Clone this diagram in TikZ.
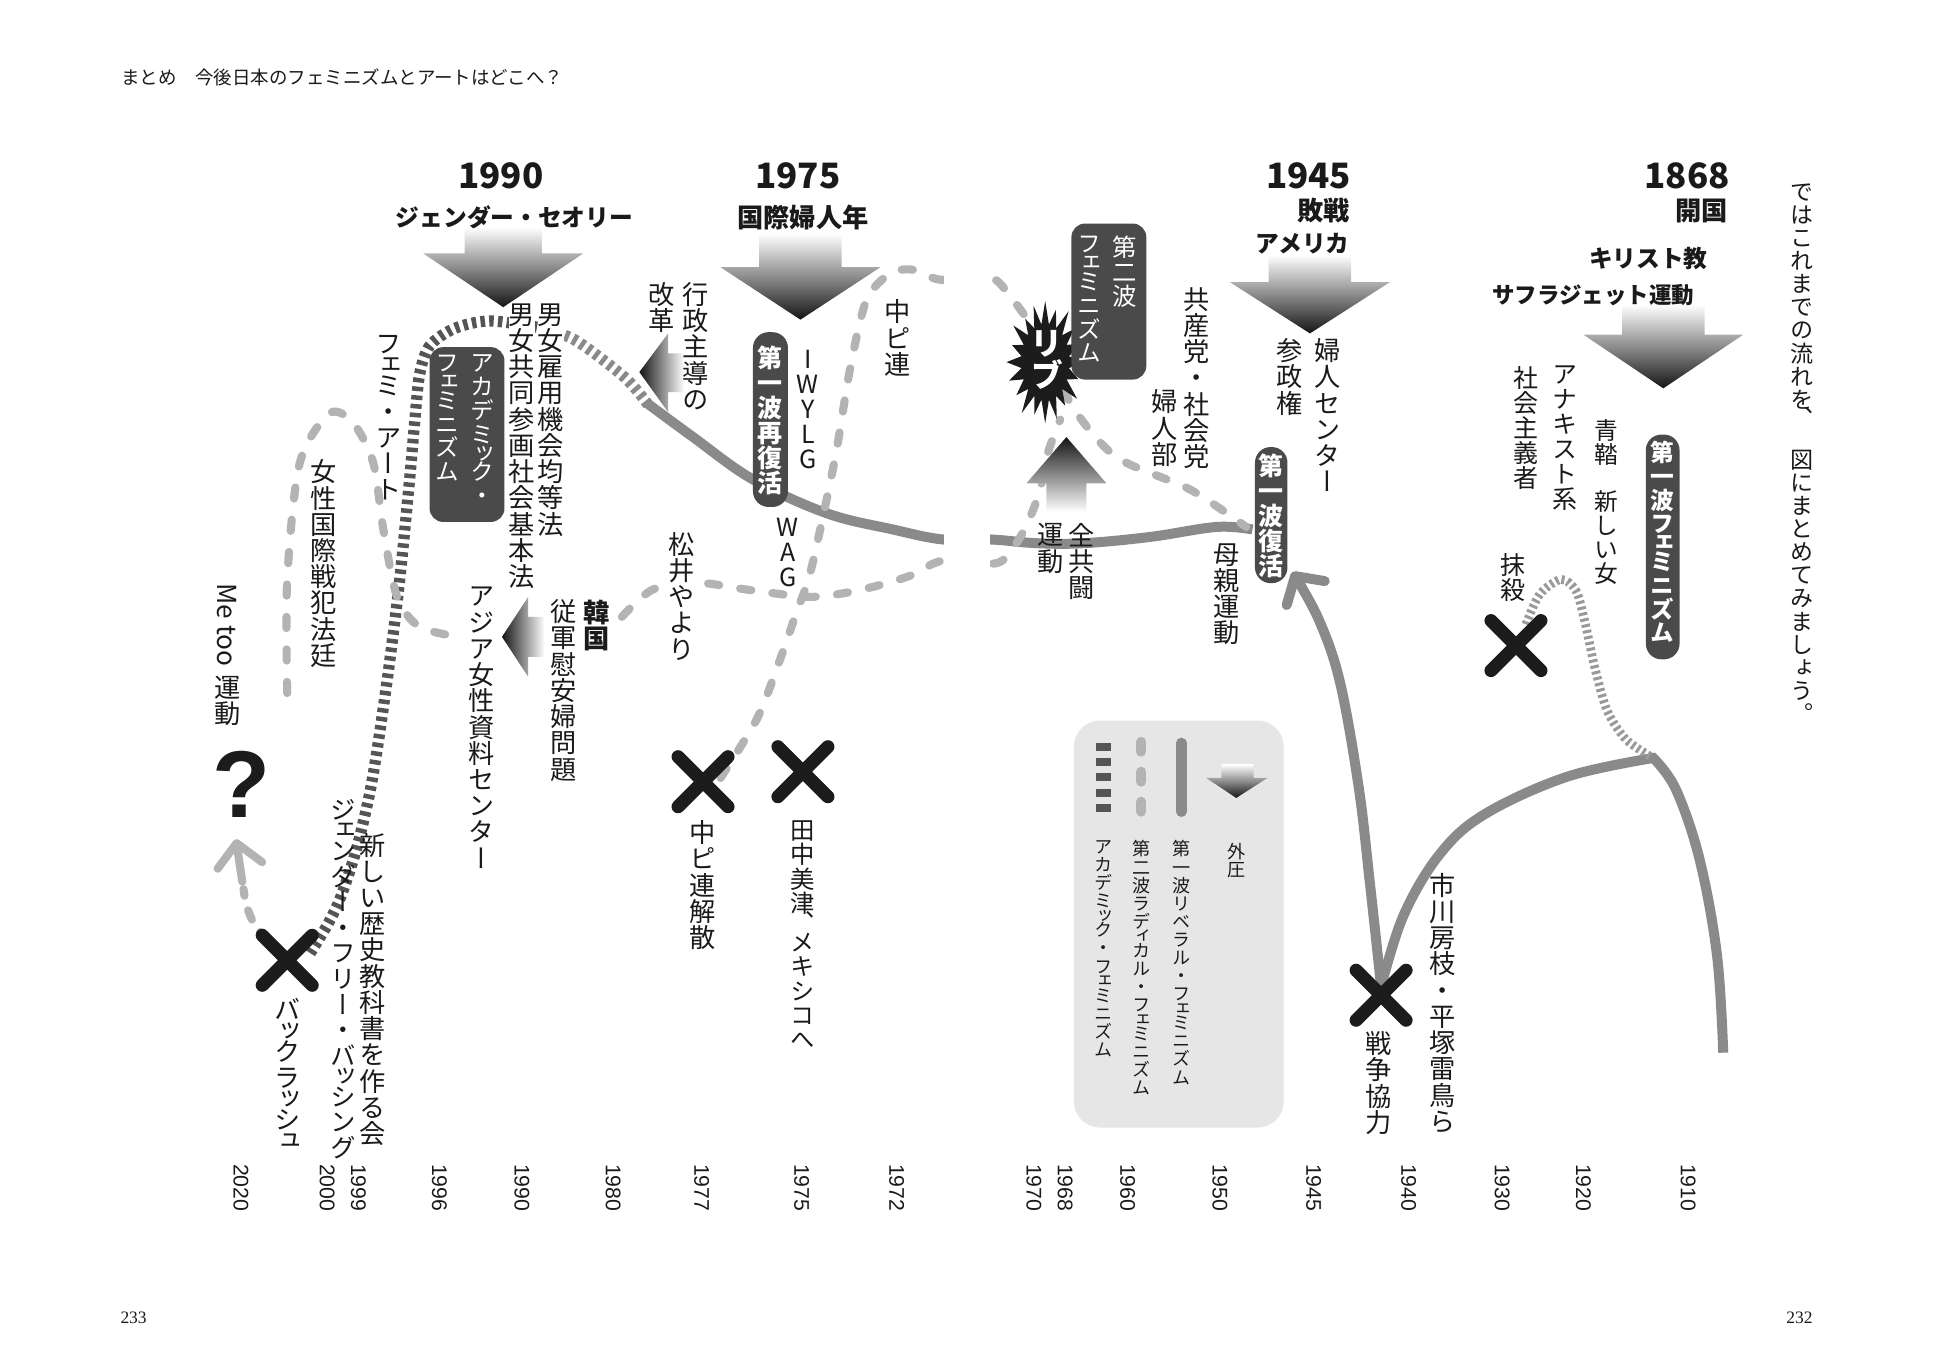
\documentclass[tikz,border=0pt]{standalone}
\usepackage{fontspec}
\usetikzlibrary{arrows.meta}
\newfontfamily\jph{Noto Sans CJK JP}
\newfontfamily\jpv{Noto Sans CJK JP}[RawFeature=+vert]
\newfontfamily\lsans{Liberation Sans}
\newfontfamily\lserif{Liberation Serif}
\newcommand\fs[1]{\fontsize{#1}{#1}\selectfont}
\makeatletter
\def\tateend{}
\def\tatei#1{\ifx#1\tateend\else\tatechar{#1}\expandafter\tatei\fi}
\newcommand\tatechar[1]{\in@{#1}{ッュェャョィァ、}\ifin@\baselineskip=0.8em\hbox to 1em{\hss#1\hss}\baselineskip=0.8em\else\hbox to 1em{\hss#1\hss}\baselineskip=1em\fi}
\newcommand\tate[1]{\vbox{\baselineskip=1em\lineskiplimit=-1000pt\lineskip=0pt\tatei#1\tateend}}
\makeatother
\definecolor{libgray}{HTML}{8A8A8A}
\definecolor{radgray}{HTML}{B3B3B3}
\definecolor{acadark}{HTML}{555555}
\definecolor{midstripe}{HTML}{9A9A9A}
\definecolor{pillgray}{HTML}{4A4A4A}
\definecolor{legbg}{HTML}{E6E6E6}
\definecolor{xblack}{HTML}{1C1C1C}
\definecolor{ink}{HTML}{1A1A1A}
\tikzset{
  vt/.style={inner sep=0pt, anchor=north, text=ink, font=\jpv\fs{21}},
  vtw/.style={inner sep=0pt, anchor=north, text=white},
  hd/.style={inner sep=0pt, text=ink, font=\jph\bfseries\fs{19}},
  yr/.style={inner sep=0pt, rotate=-90, anchor=west, text=ink, font=\lsans\fs{17}},
  lib/.style={draw=libgray, line width=8pt, line cap=butt},
  rad/.style={draw=radgray, line width=6.5pt, line cap=round, dash pattern=on 9pt off 17pt},
  aca/.style={draw=acadark, line width=9pt, line cap=butt, dash pattern=on 3.6pt off 3.4pt},
  pill/.style={fill=pillgray, rounded corners=12.5pt},
  darkbox/.style={fill=pillgray, rounded corners=11pt},
  xcross/.pic={\draw[xblack, line width=10.5pt, line cap=round] (-20,-20) -- (20,20) (-20,20) -- (20,-20);},
  gdown/.style={top color=white, bottom color=black!92, middle color=black!45},
  gleft/.style={left color=black!92, right color=white},
  gup/.style={top color=black!92, bottom color=white},
}
\begin{document}
\begin{tikzpicture}[x=1pt, y=-1pt]
\fill[white] (0,0) rectangle (1568,1083);
\useasboundingbox (0,0) rectangle (1568,1083);

% ---------- legend ----------
\fill[legbg, rounded corners=21pt] (860,577) rectangle (1028,903);
\draw[libgray, line width=8.5pt, line cap=round] (946,595) -- (946,650);
\draw[radgray, line width=8pt, line cap=round, dash pattern=on 8pt off 16pt] (914,594) -- (914,652);
\draw[acadark, line width=12pt, dash pattern=on 6.4pt off 5.8pt] (884,595) -- (884,652);
\shade[gdown] (978,612) -- (1004,612) -- (1004,623) -- (1015,623) -- (990,639) -- (966,623) -- (978,623) -- cycle;
\node[vt, font=\jpv\fs{14.5}] (lg0) at (990,675) {\tate{外圧}};
\node[vt, font=\jpv\fs{14.5}] (lg1) at (946,673) {\tate{第一波リベラル・フェミニズム}};
\node[vt, font=\jpv\fs{14.5}] (lg2) at (914,673) {\tate{第二波ラディカル・フェミニズム}};
\node[vt, font=\jpv\fs{14.5}] (lg3) at (884,673) {\tate{アカデミック・フェミニズム}};

% ---------- coordinates of the crosses ----------
\coordinate (xA) at (230,769);
\coordinate (xB) at (563,626);
\coordinate (xC) at (643,618);
\coordinate (xD) at (1106,797);
\coordinate (xE) at (1214,517);

% ---------- liberal (solid) lines ----------
\draw[lib, line join=miter] plot[smooth, tension=0.6] coordinates {(1380,843) (1375,765) (1361,688) (1342,632) (1324,607)}
   -- plot[smooth, tension=0.6] coordinates {(1324,607) (1255,622) (1189,652) (1153,684) (1124,733) (1106,790)};
\draw[lib, -{Straight Barb[length=16pt,width=36pt,round]}] plot[smooth, tension=0.6] coordinates {(1106,790) (1097,707) (1088,630) (1073,546) (1056,496) (1035,458)};
\draw[lib] plot[smooth, tension=0.6] coordinates {(1003,424) (974,422) (921,430) (868,435) (830,435) (793,432) (755,432) (715,424) (662,411) (603,384) (555,350) (517,322)};

% ---------- academic (striped) ----------
\draw[aca, draw=libgray] plot[smooth] coordinates {(519,324) (500,302) (460,272) (430,262)};
\draw[aca] plot[smooth] coordinates {(430,262) (392,257) (364,263) (344,277) (336,300) (332,339) (328,384) (320,465) (310,545) (298,625) (286,678) (273,718) (262,741) (248,764)};
\draw[midstripe, line width=7pt, dash pattern=on 2.4pt off 2.4pt] plot[smooth] coordinates {(1222,500) (1233,476) (1250,464) (1262,473) (1269,497) (1277,534) (1287,569) (1302,592) (1322,606)};

% ---------- radical (dashed) ----------
\draw[rad] plot[smooth] coordinates {(230,555) (230,464) (240,371) (264,331) (283,339) (299,371) (307,424) (318,478) (336,502) (368,510)};
\draw[rad] plot[smooth] coordinates {(498,494) (523,472) (561,467) (590,471) (619,475) (646,478) (670,476) (699,470) (729,461) (755,449) (798,451) (814,435) (825,414) (833,392) (838,366) (849,336)};
\draw[rad] plot[smooth] coordinates {(577,623) (606,576) (624,530) (638,490) (648,462) (659,414) (670,360) (681,294) (694,240) (713,219) (731,216) (753,224) (793,222) (811,240) (827,262) (845,292) (859,326) (894,366) (953,392) (998,422)};
% arrow towards the question mark
\draw[rad, dash pattern=on 8pt off 12pt] (214,752) .. controls (202,742) and (197,728) .. (195,712);
\draw[radgray, line width=6.5pt, line cap=round, -{Straight Barb[length=18pt,width=36pt,round]}] (194,706) -- (189,672);

% ---------- gutter ----------
\fill[white] (756,150) rectangle (793,700);

% ---------- crosses ----------
\pic at (xA) {xcross};
\pic at (xB) {xcross};
\pic at (xC) {xcross};
\pic at (xD) {xcross};
\pic at (xE) {xcross};

% ---------- lib star ----------
\begin{scope}[shift={(837,290)}, xscale=31, yscale=49]
\fill[xblack] (0:1) -- (9:0.62) -- (18:0.9) -- (27:0.62) -- (36:1.02) -- (45:0.62) -- (54:0.88) -- (63:0.62) -- (72:0.97) -- (81:0.62)
 -- (90:1) -- (99:0.62) -- (108:0.9) -- (117:0.62) -- (126:1.03) -- (135:0.62) -- (144:0.92) -- (153:0.62) -- (162:0.98) -- (171:0.62)
 -- (180:1) -- (189:0.62) -- (198:0.9) -- (207:0.62) -- (216:1.02) -- (225:0.62) -- (234:0.88) -- (243:0.62) -- (252:0.97) -- (261:0.62)
 -- (270:1) -- (279:0.62) -- (288:0.9) -- (297:0.62) -- (306:1.03) -- (315:0.62) -- (324:0.92) -- (333:0.62) -- (342:0.98) -- (351:0.62) -- cycle;
\end{scope}
\node[vtw, font=\jpv\bfseries\fs{26}] (lib) at (838,264) {\tate{リブ}};

% ---------- boxes and pills ----------
\fill[darkbox] (858,179) rectangle (918,304);
\node[vtw, font=\jpv\fs{19.5}] (b2a) at (901,189) {\tate{第二波}};
\node[vtw, font=\jpv\fs{19}] (b2b) at (872,189) {\tate{フェミニズム}};
\fill[darkbox] (344,278) rectangle (404,418);
\node[vtw, font=\jpv\fs{19}] (b3a) at (386,284) {\tate{アカデミック・}};
\node[vtw, font=\jpv\fs{19}] (b3b) at (358,284) {\tate{フェミニズム}};
\fill[pill] (603,266) rectangle (631,406);
\node[vtw, font=\jpv\bfseries\fs{20}] (p1) at (617,277) {\tate{第一波再復活}};
\fill[pill] (1005,358) rectangle (1031,467);
\node[vtw, font=\jpv\bfseries\fs{20}] (p2) at (1018,363) {\tate{第一波復活}};
\fill[pill] (1318,348) rectangle (1345,528);
\node[vtw, font=\jpv\bfseries\fs{19}] (p3) at (1331,353) {\tate{第一波フェミニズム}};

% ---------- gradient arrows ----------
\shade[gdown] (372,182) -- (434,182) -- (434,203) -- (467,203) -- (403,246) -- (339,203) -- (372,203) -- cycle;
\shade[gdown] (608,187) -- (674,187) -- (674,214) -- (705,214) -- (641,256) -- (577,214) -- (608,214) -- cycle;
\shade[gdown] (1016,204) -- (1082,204) -- (1082,226) -- (1113,226) -- (1049,267) -- (985,226) -- (1016,226) -- cycle;
\shade[gdown] (1299,244) -- (1365,244) -- (1365,268) -- (1396,268) -- (1332,311) -- (1268,268) -- (1299,268) -- cycle;
\shade[gleft] (512,298) -- (535,267) -- (535,283) -- (548,283) -- (548,314) -- (535,314) -- (535,330) -- cycle;
\shade[gleft] (402,510) -- (423,478) -- (423,494) -- (436,494) -- (436,526) -- (423,526) -- (423,542) -- cycle;
\shade[gup] (854,350) -- (886,387) -- (870,387) -- (870,410) -- (838,410) -- (838,387) -- (822,387) -- cycle;

% ---------- headings ----------
\node[inner sep=0pt, anchor=west, font=\jph\fs{14.8}, text=ink] (title) at (97,62) {まとめ　今後日本のフェミニズムとアートはどこへ？};
\node[hd, font=\jph\bfseries\fs{28}] (h1990) at (401,141) {1990};
\node[hd] (h1990t) at (412,174) {ジェンダー・セオリー};
\node[hd, font=\jph\bfseries\fs{28}] (h1975) at (639,141) {1975};
\node[hd, font=\jph\bfseries\fs{21}] (h1975t) at (643,174) {国際婦人年};
\node[hd, font=\jph\bfseries\fs{28}] (h1945) at (1048,141) {1945};
\node[hd, font=\jph\bfseries\fs{21}, anchor=east] (h1945a) at (1081,169) {敗戦};
\node[hd, anchor=east] (h1945b) at (1081,195) {アメリカ};
\node[hd, font=\jph\bfseries\fs{28}] (h1868) at (1351,141) {1868};
\node[hd, font=\jph\bfseries\fs{21}, anchor=east] (h1868a) at (1384,169) {開国};
\node[hd] (h1868b) at (1320,207) {キリスト教};
\node[hd, font=\jph\bfseries\fs{18}] (h1868c) at (1276,236) {サフラジェット運動};

% ---------- vertical texts ----------
\node[vt, fill=white] (t1) at (441,243) {\tate{男女雇用機会均等法}};
\node[vt, fill=white] (t2) at (418,243) {\tate{男女共同参画社会基本法}};
\node[vt] (t3) at (557,226) {\tate{行政主導の}};
\node[vt] (t4) at (530,226) {\tate{改革}};
\node[vt, font=\jph\fs{20}] (t5) at (647,280) {\tate{IWYLG}};
\node[vt, font=\jph\fs{20}] (t6) at (631,415) {\tate{WAG}};
\node[vt] (t7) at (719,240) {\tate{中ピ連}};
\node[vt, fill=white] (t8) at (546,426) {\tate{松井やより}};
\node[vt, font=\jpv\bfseries\fs{21}] (t9) at (478,480) {\tate{韓国}};
\node[vt] (t10) at (451,480) {\tate{従軍慰安婦問題}};
\node[vt] (t11) at (386,470) {\tate{アジア女性資料センター}};
\node[vt] (t12) at (311,268) {\tate{フェミ・アート}};
\node[vt] (t13) at (259,368) {\tate{女性国際戦犯法廷}};
\node[inner sep=0pt, rotate=-90, anchor=west, font=\jph\fs{21}, text=ink] (t14a) at (182,467) {Me too};
\node[vt] (t14b) at (182,541) {\tate{運動}};
\node[inner sep=0pt, font=\lsans\bfseries\fs{76}, text=xblack] (qm) at (193,628) {?};
\node[vt] (t15) at (298,667) {\tate{新しい歴史教科書を作る会}};
\node[vt, font=\jpv\fs{20.5}] (t16) at (275,640) {\tate{ジェンダー・フリー・バッシング}};
\node[vt] (t17) at (230,799) {\tate{バックラッシュ}};
\node[vt] (t18) at (563,657) {\tate{中ピ連解散}};
\node[vt, font=\jpv\fs{19.5}] (t19) at (643,657) {\tate{田中美津、メキシコへ}};
\node[vt] (t20) at (958,230) {\tate{共産党・社会党}};
\node[vt] (t21) at (933,312) {\tate{婦人部}};
\node[vt] (t22) at (1033,271) {\tate{参政権}};
\node[vt] (t23) at (1063,271) {\tate{婦人センター}};
\node[vt] (t24) at (866,419) {\tate{全共闘}};
\node[vt] (t25) at (841,419) {\tate{運動}};
\node[vt] (t26) at (982,435) {\tate{母親運動}};
\node[vt] (t27) at (1155,699) {\tate{市川房枝・平塚雷鳥ら}};
\node[vt] (t28) at (1104,826) {\tate{戦争協力}};
\node[vt, font=\jpv\fs{20}] (t29) at (1212,443) {\tate{抹殺}};
\node[vt, font=\jpv\fs{20}] (t30) at (1222,293) {\tate{社会主義者}};
\node[vt, font=\jpv\fs{20}] (t31) at (1253,293) {\tate{アナキスト系}};
\node[vt, font=\jpv\fs{19}] (t32) at (1286,336) {\tate{青鞜　新しい女}};
\node[vt, font=\jpv\fs{18.5}] (t33) at (1443,147) {\tate{ではこれまでの流れを、　図にまとめてみましょう。}};

% ---------- years ----------
\foreach \xx/\yy in {193/2020, 262/2000, 287/1999, 352/1996, 418/1990, 491/1980, 562/1977, 642/1975, 718/1972, 828/1970, 853/1968, 903/1960, 977/1950, 1052/1945, 1128/1940, 1203/1930, 1268/1920, 1352/1910}
  \node[yr] at (\xx,932) {\yy};

% ---------- page numbers ----------
\node[inner sep=0pt, font=\lserif\fs{14}, text=ink] (pg1) at (107,1055) {233};
\node[inner sep=0pt, font=\lserif\fs{14}, text=ink] (pg2) at (1441,1055) {232};
\end{tikzpicture}
\end{document}
